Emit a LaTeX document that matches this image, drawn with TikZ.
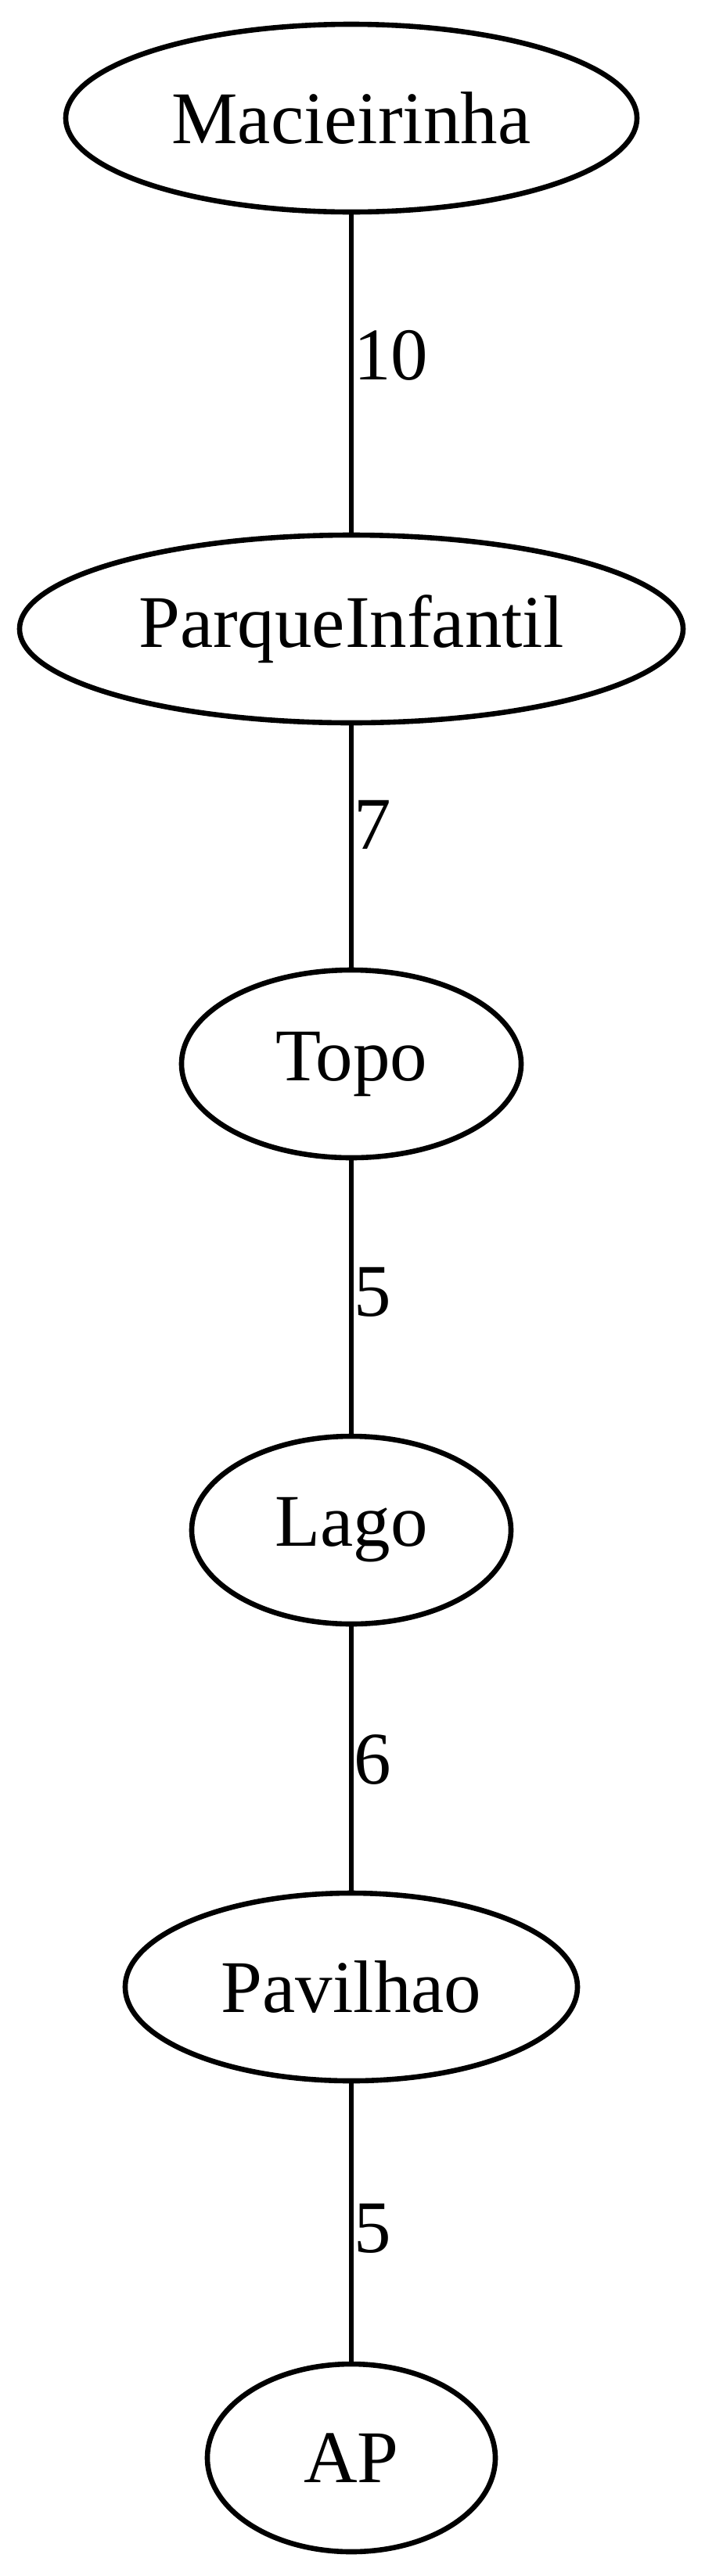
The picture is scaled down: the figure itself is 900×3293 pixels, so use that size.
\documentclass[tikz,border=0pt]{standalone}
\usepackage{fontspec}
\setmainfont{Liberation Serif}
\usetikzlibrary{shapes.geometric}
\begin{document}
\begin{tikzpicture}[x=1pt,y=-1pt,
  nodebox/.style={draw,ellipse,line width=6.6pt,inner sep=0pt,minimum height=240pt,
    font=\fontsize{95}{114}\selectfont},
  edgeline/.style={line width=6.6pt},
  elabel/.style={anchor=west,inner sep=0pt,font=\fontsize{95}{114}\selectfont}]
\useasboundingbox (0,0) rectangle (900,3293);
\node[nodebox,minimum width=730pt] (mac) at (449,151) {Macieirinha};
\node[nodebox,minimum width=848pt] (parque) at (449,804) {ParqueInfantil};
\node[nodebox,minimum width=434pt] (topo) at (449,1360) {Topo};
\node[nodebox,minimum width=408pt] (lago) at (449,1956) {Lago};
\node[nodebox,minimum width=578pt] (pav) at (449,2540) {Pavilhao};
\node[nodebox,minimum width=368pt] (ap) at (449,3142) {AP};
\draw[edgeline] (mac) -- (parque);
\draw[edgeline] (parque) -- (topo);
\draw[edgeline] (topo) -- (lago);
\draw[edgeline] (lago) -- (pav);
\draw[edgeline] (pav) -- (ap);
\node[elabel] (l1) at (452,454) {10};
\node[elabel] (l2) at (452,1054) {7};
\node[elabel] (l3) at (452,1652) {5};
\node[elabel] (l4) at (452,2249) {6};
\node[elabel] (l5) at (452,2849) {5};
\end{tikzpicture}
\end{document}
